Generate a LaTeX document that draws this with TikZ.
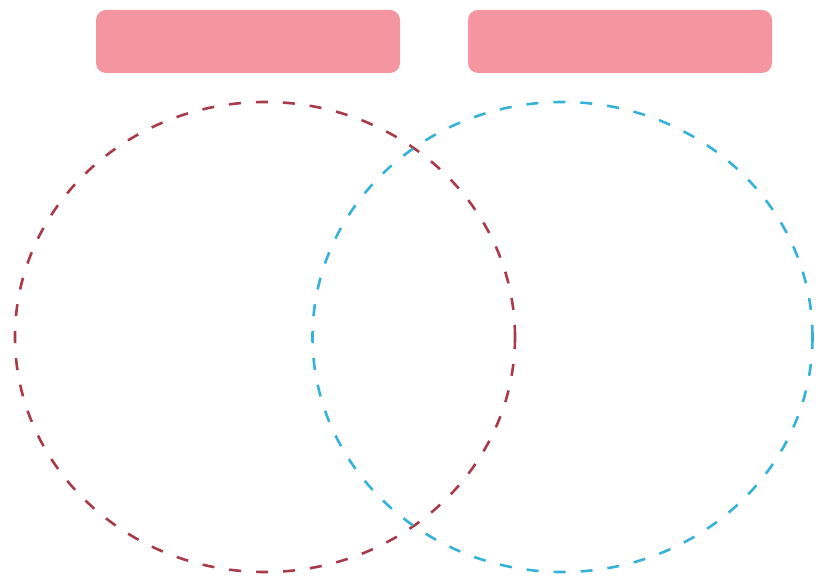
\documentclass[tikz,border=0pt]{standalone}
\definecolor{boxpink}{HTML}{F4959F}
\definecolor{leftred}{HTML}{A83A4A}
\definecolor{rightblue}{HTML}{35B2D8}
\begin{document}
\begin{tikzpicture}[x=1pt,y=-1pt,
  tagbox/.style={fill=boxpink,draw=none,rounded corners=10pt},
  setring/.style={line width=2.6pt,dash pattern=on 12pt off 15pt}]
\useasboundingbox (0,0) rectangle (816,580);
\path[tagbox] (96,10) rectangle (400,73);
\path[tagbox] (468,10) rectangle (772,73);
\draw[setring,draw=leftred] (265,337) ellipse [x radius=250,y radius=235];
\draw[setring,draw=rightblue] (562.5,337) ellipse [x radius=250,y radius=235];
\end{tikzpicture}
\end{document}
